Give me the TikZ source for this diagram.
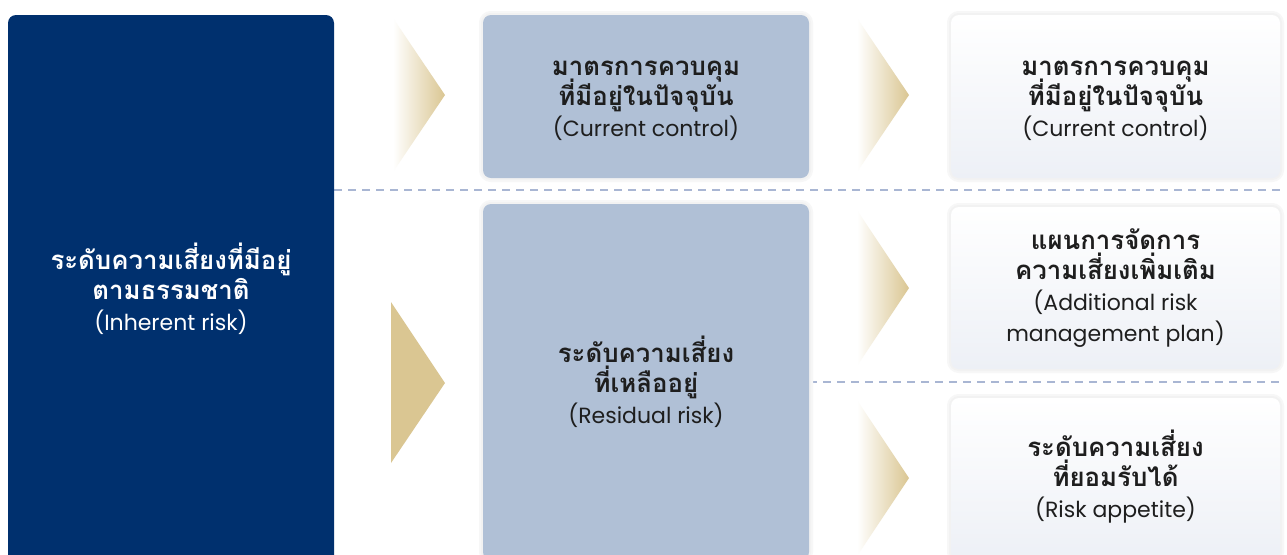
\documentclass[tikz,border=0pt]{standalone}
\usepackage{fontspec}
\newfontfamily\thaifont[Script=Thai]{Loma}
\newfontfamily\latinfont{Poppins}
\definecolor{navy}{HTML}{00306E}
\definecolor{steel}{HTML}{B0C0D6}
\definecolor{goldc}{HTML}{DAC692}
\definecolor{dashc}{HTML}{A9B6D3}
\definecolor{paleb}{HTML}{EDF0F6}
\definecolor{inkc}{HTML}{1E1E1E}

\def\dropamt{0pt}
\newcommand\thline[1]{\raisebox{-\dropamt}[\height][\depth]{\thaifont\bfseries\fontsize{12.9}{15.5}\selectfont #1}}
\newcommand\enline[1]{\raisebox{-\dropamt}[\height][\depth]{\latinfont\fontsize{11}{15.5}\selectfont #1}}
\newcommand\tightlines{\lineskiplimit=-20pt\relax}

\tikzset{
  box/.style={rounded corners=4pt,minimum width=163pt,align=center,
    font=\fontsize{10}{15.5}\selectfont\tightlines},
  textlower/.style={execute at begin node={\def\dropamt{#1}}},
  softshadow/.style={preaction={draw=black!3,line width=4pt},
    preaction={draw=black!5,line width=2pt}},
  navybox/.style={box,fill=navy,text=white},
  steelbox/.style={box,fill=steel,text=inkc,softshadow},
  whitebox/.style={box,top color=white,bottom color=paleb,text=inkc,
    minimum width=164.5pt,softshadow},
  sep/.style={dashc,line width=1pt,dash pattern=on 4pt off 3pt}
}

\begin{document}
\begin{tikzpicture}[x=0.5pt,y=-0.5pt]
  \useasboundingbox (0,0) rectangle (1287,554);
  \clip (0,0) rectangle (1287,554);
  \fill[white] (0,0) rectangle (1287,554);

  % separators
  \coordinate (s1a) at (334,190);
  \coordinate (s1b) at (1280,190);
  \coordinate (s2a) at (809,382);
  \coordinate (s2b) at (1280,382);
  \draw[sep] (s1a)--(s1b);
  \draw[sep] (s2a)--(s2b);

  % boxes
  \node[navybox,minimum height=277pt,textlower=-1.5pt] (inherent) at (171,292)
    {\thline{ระดับความเสี่ยงที่มีอยู่}\\[-0.5pt]\thline{ตามธรรมชาติ}\\\enline{(Inherent risk)}};
  \node[steelbox,minimum height=81.5pt,textlower=2.2pt] (control) at (646,96.5)
    {\thline{มาตรการควบคุม}\\[-0.5pt]\thline{ที่มีอยู่ในปัจจุบัน}\\\enline{(Current control)}};
  \node[steelbox,minimum height=178pt] (residual) at (646,382)
    {\thline{ระดับความเสี่ยง}\\[-0.5pt]\thline{ที่เหลืออยู่}\\\enline{(Residual risk)}};
  \node[whitebox,minimum height=81.5pt,textlower=2.2pt] (control2) at (1115.5,96.5)
    {\thline{มาตรการควบคุม}\\[-0.5pt]\thline{ที่มีอยู่ในปัจจุบัน}\\\enline{(Current control)}};
  \node[whitebox,minimum height=81pt] (plan) at (1115.5,288)
    {\thline{แผนการจัดการ}\\[-0.5pt]\thline{ความเสี่ยงเพิ่มเติม}\\\enline{(Additional risk}\\\enline{management plan)}};
  \node[whitebox,minimum height=81pt,textlower=-1pt] (appetite) at (1115.5,479)
    {\thline{ระดับความเสี่ยง}\\[-0.5pt]\thline{ที่ยอมรับได้}\\\enline{(Risk appetite)}};

  % arrow heads
  \fill[goldc] (391,302)--(445,383)--(391,463)--cycle;
  \foreach \ax/\ay/\by in {393/18/172,857/18/172,857/210/366,857/400/556}{
    \shade[left color=white,right color=goldc]
      (\ax,\ay)--({\ax+52},{(\ay+\by)/2})--(\ax,\by)--cycle;
  }
\end{tikzpicture}
\end{document}
